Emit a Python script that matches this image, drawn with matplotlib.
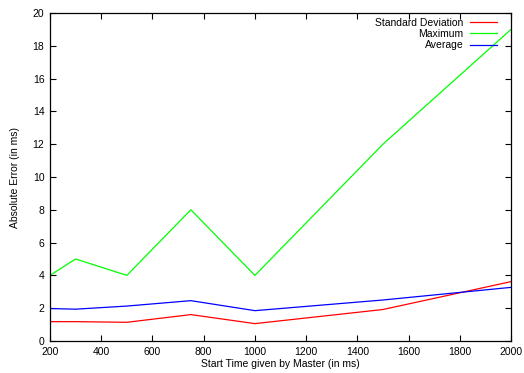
import matplotlib
matplotlib.use("Agg")
import matplotlib.pyplot as plt

plt.rcParams['font.family'] = ['Liberation Sans', 'DejaVu Sans']

start_time = [200, 300, 500, 750, 1000, 1500, 2000]
std_dev = [1.18, 1.18, 1.14, 1.61, 1.06, 1.92, 3.62]
maximum = [4, 5, 4, 8, 4, 12, 19]
average = [1.98, 1.94, 2.13, 2.46, 1.85, 2.5, 3.27]

fig = plt.figure(figsize=(5.24, 3.73), dpi=100)
ax = fig.add_axes([50 / 524, 1 - 341 / 373, 461 / 524, 328 / 373])

ax.plot(start_time, std_dev, color='#ff0000', linewidth=0.9, label='Standard Deviation')
ax.plot(start_time, maximum, color='#00ff00', linewidth=0.9, label='Maximum')
ax.plot(start_time, average, color='#0000ff', linewidth=0.9, label='Average')

ax.set_xlim(200, 2000)
ax.set_ylim(0, 20)
ax.set_xticks(range(200, 2001, 200))
ax.set_yticks(range(0, 21, 2))
ax.tick_params(direction='in', top=True, right=True, labelsize=7.5, length=4, pad=4)
for s in ax.spines.values():
    s.set_linewidth(0.9)

ax.set_xlabel('Start Time given by Master (in ms)', fontsize=7.5, labelpad=2)
ax.set_ylabel('Absolute Error (in ms)', fontsize=7.5, labelpad=9)

ax.legend(loc='upper right', frameon=False, markerfirst=False, fontsize=7.5,
          handlelength=2.6, labelspacing=0.12, handletextpad=0.6,
          borderpad=0.2, bbox_to_anchor=(0.985, 1.008))

fig.savefig('out.png', dpi=100)
